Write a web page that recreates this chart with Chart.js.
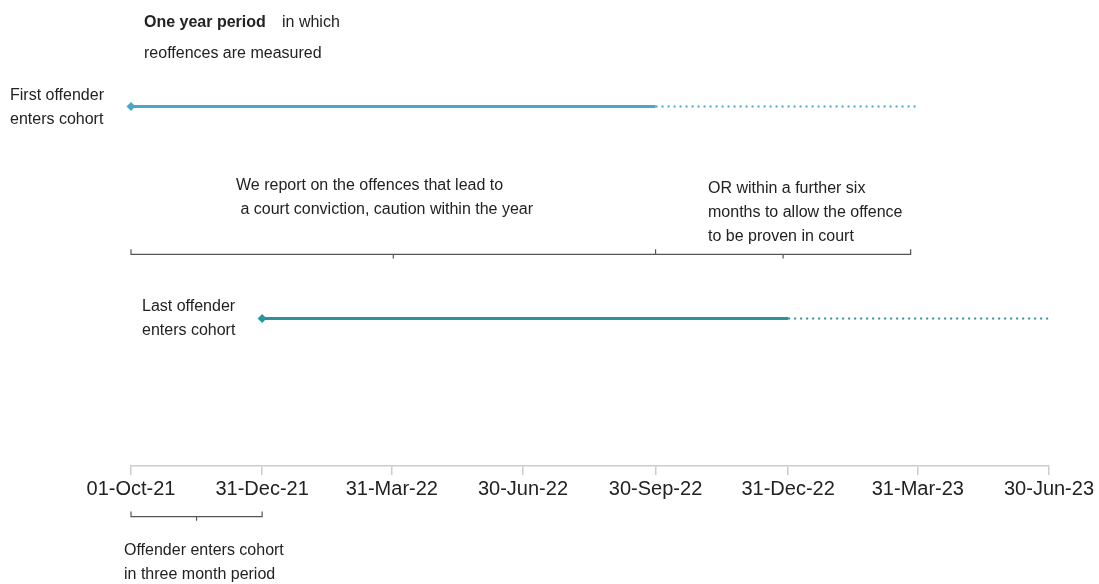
<!DOCTYPE html>
<html>
<head>
<meta charset="utf-8">
<script src="https://cdn.jsdelivr.net/npm/chart.js@4/dist/chart.umd.min.js"></script>
<style>
  html, body { margin: 0; padding: 0; background: #ffffff; }
  #wrap { width: 1099px; height: 584px; }
</style>
</head>
<body>
<div id="wrap"><canvas id="timeline" width="1099" height="584"></canvas></div>
<script>
// Timeline data
const tickDates = ['2021-10-01', '2021-12-31', '2022-03-31', '2022-06-30', '2022-09-30', '2022-12-31', '2023-03-31', '2023-06-30'];
const tickLabels = ['01-Oct-21', '31-Dec-21', '31-Mar-22', '30-Jun-22', '30-Sep-22', '31-Dec-22', '31-Mar-23', '30-Jun-23'];

const offenderNames = ['First offender', 'Last offender'];
const entryDates = ['2021-10-01', '2021-12-31'];   // solid line starts
const yearEndDates = ['2022-09-30', '2022-12-31']; // one year period ends
const courtEndDates = ['2023-03-31', '2023-06-30']; // further six months (dotted)

const reportBrace = ['2021-10-01', '2022-09-30', '2023-03-26']; // start, split, end
const cohortBrace = ['2021-10-01', '2021-12-31'];

// layout (not data)
const FONT = "'Liberation Sans', Arial, sans-serif";
const TEXT = '#222222';
const BRACE = '#555555';
const lineColors = ['#4ca5cb', '#2b939b'];
const rowLevel = [7.79, 3.198];
const topBraceLevel = 4.584;
const bottomBraceLevel = -1.095;
const up = 0.11, down = 0.09;

const t0 = Date.parse(tickDates[0]);
const day = s => (Date.parse(s) - t0) / 86400000;
const tickValues = tickDates.map(day);

function bracePath(dates, level) {
    // open bracket: ends tick up, middles tick down, splits tick up
    const xs = dates.map(day);
    const pts = [{ x: xs[0], y: level + up }, { x: xs[0], y: level }];
    for (let i = 1; i < xs.length; i++) {
        const mid = (xs[i - 1] + xs[i]) / 2;
        pts.push({ x: mid, y: level }, { x: mid, y: level - down }, { x: mid, y: level });
        pts.push({ x: xs[i], y: level }, { x: xs[i], y: level + up });
        if (i < xs.length - 1) pts.push({ x: xs[i], y: level });
    }
    return pts;
}

const datasets = [];
offenderNames.forEach((name, i) => {
    datasets.push({
        label: name,
        data: [{ x: day(entryDates[i]), y: rowLevel[i] }, { x: day(yearEndDates[i]), y: rowLevel[i] }],
        borderColor: lineColors[i],
        backgroundColor: lineColors[i],
        borderWidth: 3,
        pointStyle: 'rectRot',
        pointRadius: [4.5, 0],
        pointBorderWidth: 0,
        clip: false
    });
    datasets.push({
        label: name + ' (court)',
        data: [{ x: day(yearEndDates[i]), y: rowLevel[i] }, { x: day(courtEndDates[i]), y: rowLevel[i] }],
        borderColor: lineColors[i],
        borderWidth: 2,
        borderDash: [2, 4],
        pointRadius: 0,
        clip: false
    });
});
datasets.push({
    label: 'report brace',
    data: bracePath(reportBrace, topBraceLevel),
    borderColor: BRACE,
    borderWidth: 1.2,
    pointRadius: 0,
    clip: false
});
datasets.push({
    label: 'cohort brace',
    data: bracePath(cohortBrace, bottomBraceLevel),
    borderColor: BRACE,
    borderWidth: 1.2,
    pointRadius: 0,
    clip: false
});

// annotation texts
const notes = [
    { lines: ['reoffences are measured'], x: 144, y: 54 },
    { lines: ['First offender', 'enters cohort'], x: 10, y: 96 },
    { lines: ['We report on the offences that lead to', ' a court conviction, caution within the year'], x: 236, y: 186 },
    { lines: ['OR within a further six', 'months to allow the offence', 'to be proven in court'], x: 708, y: 189 },
    { lines: ['Last offender', 'enters cohort'], x: 142, y: 307 },
    { lines: ['Offender enters cohort', 'in three month period'], x: 124, y: 551 }
];

const notesPlugin = {
    id: 'notes',
    afterDraw(chart) {
        const ctx = chart.ctx;
        ctx.save();
        ctx.fillStyle = TEXT;
        ctx.textBaseline = 'middle';
        ctx.textAlign = 'left';
        ctx.font = 'bold 16px ' + FONT;
        ctx.fillText('One year period', 144, 23);
        ctx.font = '16px ' + FONT;
        ctx.fillText('in which', 282, 23);
        notes.forEach(n => {
            n.lines.forEach((l, k) => ctx.fillText(l, n.x, n.y + k * 24));
        });
        ctx.restore();
    }
};

new Chart(document.getElementById('timeline').getContext('2d'), {
    type: 'line',
    data: { datasets: datasets },
    options: {
        responsive: false,
        animation: false,
        layout: { padding: { left: 131, right: 50, top: 0, bottom: 0 } },
        plugins: { legend: { display: false }, tooltip: { enabled: false } },
        scales: {
            x: {
                type: 'linear',
                min: 0,
                max: tickValues[tickValues.length - 1],
                afterBuildTicks: s => { s.ticks = tickValues.map(v => ({ value: v })); },
                afterFit: s => { s.height = 118; },
                ticks: {
                    autoSkip: false,
                    maxRotation: 0,
                    padding: 2,
                    color: TEXT,
                    font: { family: FONT, size: 20 },
                    callback: (v, i) => tickLabels[i]
                },
                grid: { drawOnChartArea: false, drawTicks: true, tickLength: 9, color: '#cccccc', lineWidth: 1.5 },
                border: { display: true, color: '#cccccc', width: 1.5 }
            },
            y: {
                display: false,
                min: 0,
                max: 10
            }
        }
    },
    plugins: [notesPlugin]
});
</script>
</body>
</html>
